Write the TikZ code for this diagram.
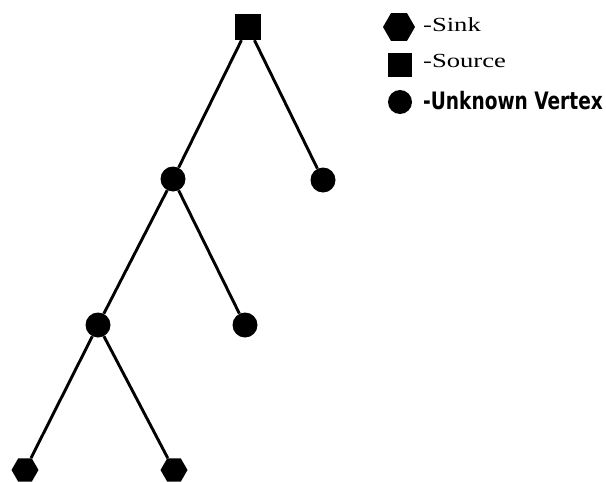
\documentclass[tikz,border=0pt]{standalone}
\usepackage{fontspec}
\setmainfont{Liberation Serif}
\newfontfamily\boldnarrow{DejaVu Sans Condensed}
\usepackage{tikz}
\usetikzlibrary{shapes.geometric}

\tikzset{
  vertex/.style={circle,fill=black,inner sep=0pt,minimum size=25pt},
  source/.style={rectangle,fill=black,inner sep=0pt,minimum size=26pt},
  sink/.style={regular polygon,regular polygon sides=6,fill=black,inner sep=0pt,minimum size=27pt},
  edge/.style={line width=2.9pt},
  key/.style={anchor=base west,inner sep=0pt,font=\fontsize{20}{22}\selectfont}
}

\begin{document}
\begin{tikzpicture}[x=1pt,y=-1pt]
\useasboundingbox (0,0) rectangle (606,482);

% tree
\node[source] (s) at (248,27) {};
\node[vertex] (a) at (173,179) {};
\node[vertex] (b) at (323,180) {};
\node[vertex] (c) at (98,325) {};
\node[vertex] (d) at (245,325) {};
\node[sink] (t1) at (25,470) {};
\node[sink] (t2) at (174,470) {};

\draw[edge] (s)--(a);
\draw[edge] (s)--(b);
\draw[edge] (a)--(c);
\draw[edge] (a)--(d);
\draw[edge] (c)--(t1);
\draw[edge] (c)--(t2);

% legend
\node[sink,minimum size=32pt] (ls) at (399,27) {};
\node[source,minimum size=24pt] (lq) at (400,65) {};
\node[vertex,minimum size=24pt] (lv) at (400,102) {};

\node[key] (lsT) at (423,31.5) {\scalebox{1.33}[1]{-Sink}};
\node[key] (lqT) at (423,67.5) {\scalebox{1.33}[1]{-Source}};
\node[key,font=\boldnarrow\bfseries\fontsize{24}{26}\selectfont] (lvT) at (423,109.5) {\scalebox{0.86}[1]{-Unknown Vertex}};
\end{tikzpicture}
\end{document}
